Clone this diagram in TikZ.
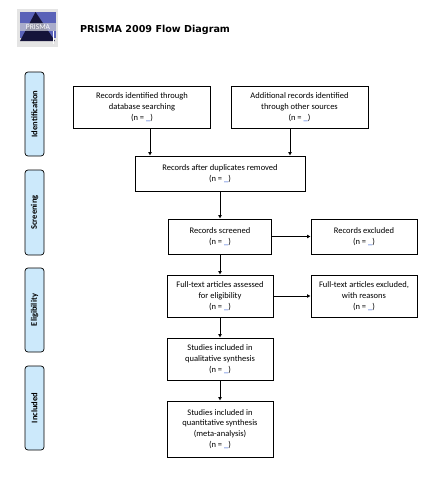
\documentclass[tikz,border=0pt]{standalone}
\usepackage{fontspec}
\setmainfont{Carlito}
\newfontfamily\titlefont{DejaVu Sans}
\usepackage{tikz}
\usetikzlibrary{arrows.meta}
\definecolor{barblue}{HTML}{CCE9FB}
\definecolor{nblue}{HTML}{1F4FD0}
\definecolor{logoblue}{HTML}{5A62B8}
\definecolor{logodark}{HTML}{15143A}
\definecolor{logogray}{HTML}{E4E4E4}
\definecolor{logoband}{HTML}{C4C6D2}
\newcommand{\nblank}{(n = \textcolor{nblue}{\_})}
\tikzset{
    box/.style={draw, line width=0.9pt, align=center, inner sep=0pt, font=\fontsize{8.5}{10.8}\selectfont},
    bar/.style={draw, line width=0.7pt, fill=barblue, rounded corners=3pt, rotate=90, inner sep=0pt, minimum height=19pt, font=\fontsize{8.5}{10}\selectfont\bfseries},
    flow/.style={-{Latex[length=3.5pt, width=4pt]}, line width=0.9pt}}
\begin{document}
\begin{tikzpicture}[x=1pt, y=-1pt]

                    \useasboundingbox (0,0) rectangle (431,477);

                    % logo
                    \fill[logogray] (17,9) rectangle (58,47);
                    \fill[logoblue] (20,12) rectangle (56,38);
                    \fill[logodark] (35.5,12) -- (20,41) -- (55,41) -- cycle;
                    \fill[logoband, opacity=0.75] (20,23) rectangle (56,31);
                    \node[text=white, inner sep=0pt, font=\fontsize{7.5}{7.5}\selectfont] (logotext) at (38,27) {PRISMA};
                    \draw[white, line width=0.5pt] (53,31) -- (53,44);

                    \node[anchor=west, inner sep=0pt, font=\fontsize{9.6}{10}\titlefont\bfseries] (title) at (80,29.5) {PRISMA 2009 Flow Diagram};

                    \node[bar, minimum width=84pt] (identification) at (34.5,114) {Identification};
                    \node[bar, minimum width=85pt] (screening) at (34.5,212.5) {Screening};
                    \node[bar, minimum width=84pt] (eligibility) at (34.5,310) {Eligibility};
                    \node[bar, minimum width=84pt] (included) at (34.5,408) {Included};

                    \node[box, minimum width=137pt, minimum height=42pt] (database) at (142,107) {Records identified through\\database searching\\\nblank};
                    \node[box, minimum width=137pt, minimum height=42pt] (other) at (299.5,107) {Additional records identified\\through other sources\\\nblank};
                    \node[box, minimum width=170pt, minimum height=35pt] (duplicates) at (220,173.5) {Records after duplicates removed\\\nblank};
                    \node[box, minimum width=103pt, minimum height=35pt] (screened) at (220,236.5) {Records screened\\\nblank};
                    \node[box, minimum width=106pt, minimum height=35pt] (excluded) at (364,236.5) {Records excluded\\\nblank};
                    \node[box, minimum width=106pt, minimum height=42pt] (fulltext) at (220,296) {Full-text articles assessed\\for eligibility\\\nblank};
                    \node[box, minimum width=106pt, minimum height=42pt] (reasons) at (364,296) {Full-text articles excluded,\\with reasons\\\nblank};
                    \node[box, minimum width=106pt, minimum height=42pt] (qualitative) at (220,359) {Studies included in\\qualitative synthesis\\\nblank};
                    \node[box, minimum width=106pt, minimum height=56pt] (quantitative) at (220,429) {Studies included in\\quantitative synthesis\\(meta-analysis)\\\nblank};

                    \draw[flow] ([xshift=8pt]database.south) -- ([xshift=8pt]database.south |- duplicates.north);
                    \draw[flow] ([xshift=-9.5pt]other.south) -- ([xshift=-9.5pt]other.south |- duplicates.north);
                    \draw[flow] (duplicates) -- (screened);
                    \draw[flow] (screened) -- (fulltext);
                    \draw[flow] (screened) -- (excluded);
                    \draw[flow] (fulltext) -- (reasons);
                    \draw[flow] (fulltext) -- (qualitative);
                    \draw[flow] (qualitative) -- (quantitative);

\end{tikzpicture}
\end{document}
